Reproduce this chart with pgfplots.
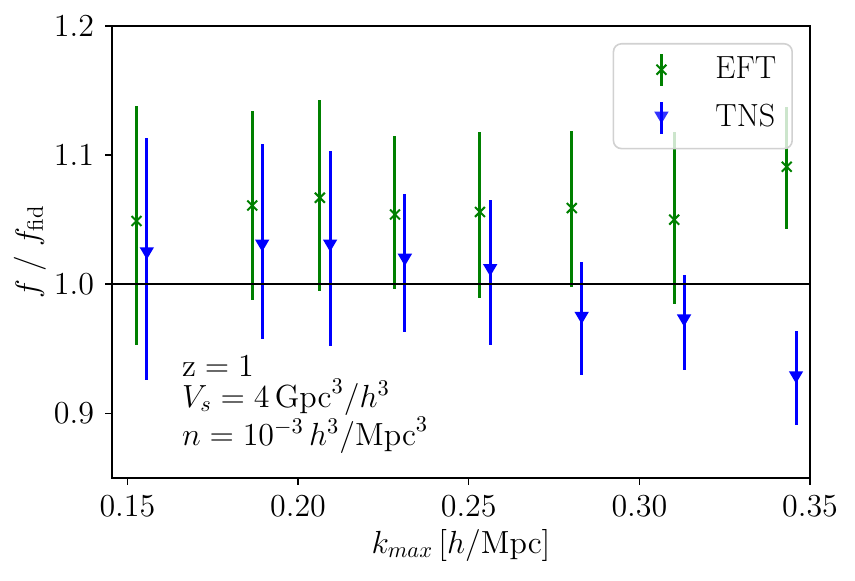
\RequirePackage{fix-cm}
\documentclass[border=0pt]{standalone}
\usepackage{pgfplots}
\usepackage{pgfplotstable}
\pgfplotsset{compat=1.18}
\definecolor{mplgreen}{rgb}{0,0.5020,0}
\definecolor{mplblue}{rgb}{0,0,1}

\pgfdeclareplotmark{tridown}{%
  \pgfpathmoveto{\pgfqpoint{0pt}{-3.1pt}}%
  \pgfpathlineto{\pgfqpoint{-3.6pt}{3.0pt}}%
  \pgfpathlineto{\pgfqpoint{3.6pt}{3.0pt}}%
  \pgfpathclose
  \pgfusepathqfill
}

\pgfplotstableread{
x      y      ep     em
0.1527 1.049  0.089  0.096
0.1866 1.061  0.073  0.073
0.2064 1.067  0.076  0.072
0.2284 1.054  0.061  0.058
0.2533 1.056  0.062  0.067
0.2802 1.059  0.060  0.061
0.3102 1.050  0.068  0.065
0.3432 1.091  0.046  0.048
}\eft

\pgfplotstableread{
x      y      ep     em
0.1557 1.024  0.089  0.098
0.1895 1.030  0.079  0.072
0.2094 1.030  0.073  0.078
0.2313 1.019  0.051  0.056
0.2563 1.011  0.054  0.058
0.2831 0.974  0.043  0.044
0.3131 0.972  0.035  0.038
0.3459 0.928  0.036  0.037
}\tns

\begin{document}
\fontsize{16}{19.2}\selectfont
\begin{tikzpicture}
\useasboundingbox (-56pt,-51.5pt) rectangle (371.5pt,239pt);
\begin{axis}[
  scale only axis,
  width=349pt, height=226pt,
  xmin=0.1455, xmax=0.35,
  ymin=0.85, ymax=1.2,
  xtick={0.15,0.20,0.25,0.30,0.35},
  ytick={0.9,1.0,1.1,1.2},
  scaled x ticks=false, scaled y ticks=false,
  xticklabel style={/pgf/number format/.cd, fixed, fixed zerofill, precision=2},
  yticklabel style={/pgf/number format/.cd, fixed, fixed zerofill, precision=1},
  tick align=outside,
  xtick pos=bottom, ytick pos=left,
  major tick length=3.5pt,
  tick style={black, line width=0.8pt},
  axis line style={line width=0.8pt},
  xlabel={$k_{max}\,[h/{\rm Mpc}]$},
  ylabel={$f\;/\;f_{\rm fid}$},
  xlabel style={at={(axis description cs:0.5,-0.166)}, anchor=base},
  ylabel style={at={(axis description cs:-0.1175,0.5)}, anchor=center, rotate=0},
  legend style={at={(0.9756,0.9624)}, anchor=north east,
    draw=black!18, line width=0.8pt, rounded corners=4pt,
    fill=white, fill opacity=0.8, text opacity=1,
    inner xsep=8pt, inner ysep=4.2pt,
    column sep=11pt, row sep=3.9pt,
    nodes={inner sep=0pt}},
  legend cell align=left,
]
\addplot[only marks, mark=x, color=mplgreen, mark size=3.5pt,
  mark options={line width=1pt},
  error bars/.cd, y dir=both, y explicit, error mark=none,
  error bar style={line width=1.5pt, mplgreen},
  /pgfplots/legend image code/.code={%
    \path[draw=none, fill=none] (0pt,-11.3pt) rectangle (32pt,8pt);
    \draw[mplgreen, line width=1.5pt, sharp corners] (16pt,-8pt) -- (16pt,8pt);
    \draw[mplgreen, line width=1pt, sharp corners] plot[mark=x, mark size=3.5pt] coordinates {(16pt,0pt)};
  }]
  table[x=x, y=y, y error plus=ep, y error minus=em]{\eft};
\addlegendentry{EFT}
\addplot[only marks, mark=tridown, color=mplblue,
  error bars/.cd, y dir=both, y explicit, error mark=none,
  error bar style={line width=1.5pt, mplblue},
  /pgfplots/legend image code/.code={%
    \path[draw=none, fill=none] (0pt,-11.3pt) rectangle (32pt,8pt);
    \draw[mplblue, line width=1.5pt, sharp corners] (16pt,-8pt) -- (16pt,8pt);
    \fill[mplblue, sharp corners] plot[mark=tridown] coordinates {(16pt,0pt)};
  }]
  table[x=x, y=y, y error plus=ep, y error minus=em]{\tns};
\addlegendentry{TNS}
\addplot[black, line width=1pt, forget plot] coordinates {(0.1455,1) (0.35,1)};
\node[anchor=base west, inner sep=0pt] at (axis cs:0.1659,0.9289) {$\rm z = 1$};
\node[anchor=base west, inner sep=0pt] at (axis cs:0.1659,0.9049) {$V_s = 4\,{\rm Gpc}^3/h^3$};
\node[anchor=base west, inner sep=0pt] at (axis cs:0.1659,0.8754) {$n = 10^{-3}\,h^3/{\rm Mpc}^3$};
\end{axis}
\end{tikzpicture}
\end{document}
